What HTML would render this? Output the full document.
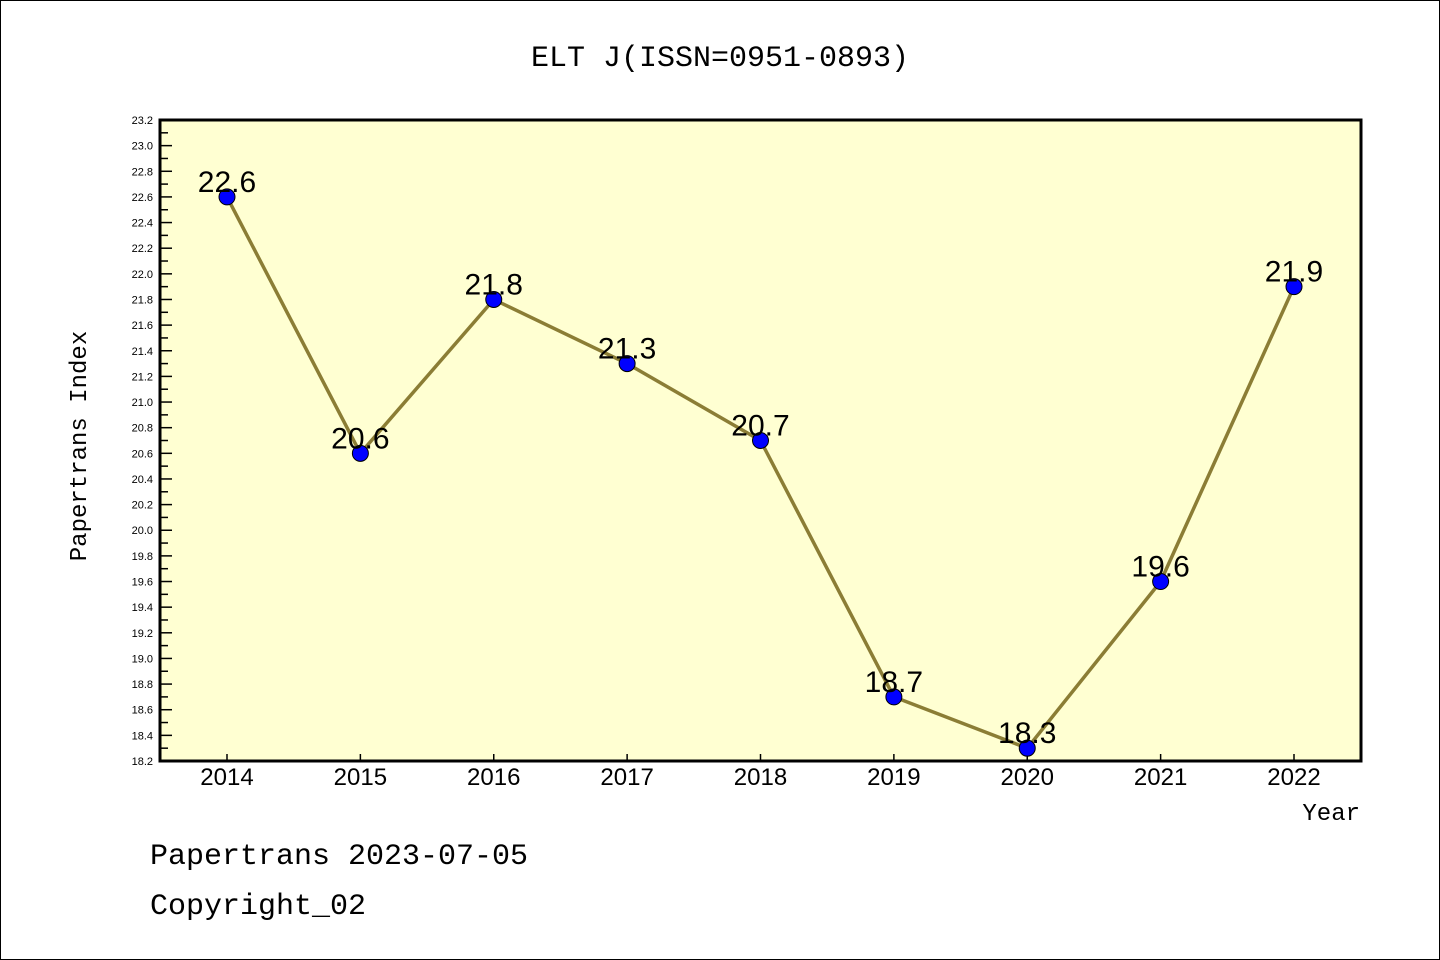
<!DOCTYPE html>
<html><head><meta charset="utf-8"><style>
body{margin:0;background:#fff}
svg{display:block}
text{font-family:"Liberation Mono","DejaVu Sans Mono",monospace;fill:#000}
.sans{font-family:"Liberation Sans","DejaVu Sans",sans-serif}
</style></head><body>
<svg width="1440" height="960">
<rect x="0.5" y="0.5" width="1439" height="959" fill="#fff" stroke="#000"/>
<text x="720" y="66" text-anchor="middle" font-size="30">ELT J(ISSN=0951-0893)</text>
<rect x="160" y="120" width="1201" height="641" fill="#ffffd2"/>
<g id="ticks"></g>
<g id="series"></g>
<rect x="160" y="120" width="1201" height="641" fill="none" stroke="#000" stroke-width="3"/>
<text x="86" y="446" text-anchor="middle" font-size="24" transform="rotate(-90 86 446)">Papertrans Index</text>
<text x="1360" y="820" text-anchor="end" font-size="24">Year</text>
<text x="150" y="864" font-size="30">Papertrans 2023-07-05</text>
<text x="150" y="914" font-size="30">Copyright_02</text>
</svg>
<script>
const years=["2014","2015","2016","2017","2018","2019","2020","2021","2022"];
const values=[22.6,20.6,21.8,21.3,20.7,18.7,18.3,19.6,21.9];
const yTicks=["18.2","18.4","18.6","18.8","19.0","19.2","19.4","19.6","19.8","20.0","20.2","20.4","20.6","20.8","21.0","21.2","21.4","21.6","21.8","22.0","22.2","22.4","22.6","22.8","23.0","23.2"];
const NS="http://www.w3.org/2000/svg";
const yMin=18.2,yMax=23.2,plotTop=120,plotBot=761;
function y(v){return plotBot-(v-yMin)/(yMax-yMin)*(plotBot-plotTop);}
function x(i){return 227+i*133.375;}
function mk(tag,attrs,parent){const e=document.createElementNS(NS,tag);for(const k in attrs)e.setAttribute(k,attrs[k]);parent.appendChild(e);return e;}
const tg=document.getElementById('ticks'),sg=document.getElementById('series');
yTicks.forEach((t,i)=>{const v=parseFloat(t),yy=y(v);
 const l=mk('line',{x1:160,x2:172,y1:yy,y2:yy,stroke:'#000','stroke-width':1.5},tg);
 
 
 const tx=mk('text',{x:153,y:yy+4,'text-anchor':'end','font-size':11,'class':'sans'},tg);tx.textContent=t;
 
 
 if(i<yTicks.length-1){const ym=y(v+0.1);const m=mk('line',{x1:160,x2:168,y1:ym,y2:ym,stroke:'#000','stroke-width':1.5},tg);
 
 }
});
years.forEach((yr,i)=>{const xx=x(i);
 const l=mk('line',{x1:xx,x2:xx,y1:761,y2:754,stroke:'#000','stroke-width':1.5},tg);
 
 
 const t=mk('text',{x:xx,y:785,'text-anchor':'middle','font-size':24,'class':'sans'},tg);t.textContent=yr;
 
 
});
const pl=mk('polyline',{points:values.map((v,i)=>x(i)+','+y(v)).join(' '),fill:'none',stroke:'#8b7d35','stroke-width':3.5},sg);


values.forEach((v,i)=>{
 const c=mk('circle',{cx:x(i),cy:y(v),r:8,fill:'#0000ff',stroke:'#000','stroke-width':1},sg);
 
 
 const t=mk('text',{x:x(i),y:y(v)-5,'text-anchor':'middle','font-size':30,'class':'sans'},sg);t.textContent=v.toFixed(1);
 
 
});
</script>
</body></html>
